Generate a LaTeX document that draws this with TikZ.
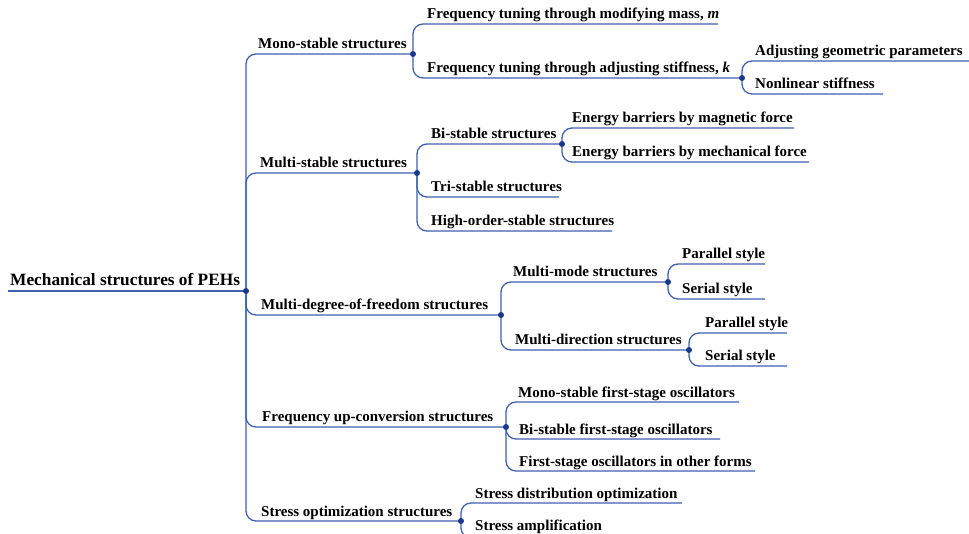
\documentclass[tikz,border=0pt]{standalone}
\usepackage{fontspec}
\setmainfont{Liberation Serif}
\usetikzlibrary{calc}
\definecolor{linec}{RGB}{62,96,176}
\definecolor{dotc}{RGB}{26,56,140}
\begin{document}
\begin{tikzpicture}[x=1pt,y=-1pt,
  lbl/.style={anchor=base west, inner sep=0pt, font=\fontsize{15}{18}\selectfont\bfseries, text=black},
  rootlbl/.style={lbl, font=\fontsize{17.3}{20}\selectfont\bfseries},
  edge/.style={draw=linec, line width=1.3pt, rounded corners=10pt},
  jdot/.style={circle, fill=dotc, inner sep=0pt, minimum size=6pt}]
\clip (0,0) rectangle (969,534);
% junctions and line ends
\coordinate (rootL) at (8,291);
\coordinate (cR) at (246,291);
\coordinate (cM) at (413,54);
\coordinate (cS) at (417,173);
\coordinate (cD) at (501,315);
\coordinate (cF) at (506,427);
\coordinate (cT) at (461,521);
\coordinate (eMass) at (718,24);
\coordinate (cK) at (742,78);
\coordinate (eGeo) at (969,61);
\coordinate (eNon) at (883,94);
\coordinate (cB) at (562,144);
\coordinate (eTri) at (559,197);
\coordinate (eHigh) at (612,231);
\coordinate (eMag) at (794,128);
\coordinate (eMech) at (809,162);
\coordinate (cMM) at (668,282);
\coordinate (cMD) at (689,350);
\coordinate (ePar1) at (765,264);
\coordinate (eSer1) at (765,299);
\coordinate (ePar2) at (787,333);
\coordinate (eSer2) at (787,366);
\coordinate (eMonoF) at (739,402);
\coordinate (eBiF) at (720,439);
\coordinate (eOther) at (755,471);
\coordinate (eDist) at (682,503);
\coordinate (eAmp) at (605,538);
% connectors
\draw[edge] (rootL) -- (cR);
\foreach \c in {cM,cS,cD,cF,cT} \draw[edge] (cR) |- (\c);
\foreach \c in {eMass,cK} \draw[edge] (cM) |- (\c);
\foreach \c in {eGeo,eNon} \draw[edge] (cK) |- (\c);
\foreach \c in {cB,eTri,eHigh} \draw[edge] (cS) |- (\c);
\foreach \c in {eMag,eMech} \draw[edge] (cB) |- (\c);
\foreach \c in {cMM,cMD} \draw[edge] (cD) |- (\c);
\foreach \c in {ePar1,eSer1} \draw[edge] (cMM) |- (\c);
\foreach \c in {ePar2,eSer2} \draw[edge] (cMD) |- (\c);
\foreach \c in {eMonoF,eBiF,eOther} \draw[edge] (cF) |- (\c);
\foreach \c in {eDist,eAmp} \draw[edge] (cT) |- (\c);
% junction dots
\foreach \c in {cR,cM,cS,cD,cF,cT,cK,cB,cMM,cMD} \node[jdot] (dot\c) at (\c) {};
% labels
\node[rootlbl] (root) at (10,286) {Mechanical structures of PEHs};
\node[lbl] (mono) at (258,49) {Mono-stable structures};
\node[lbl] (multi) at (260,168) {Multi-stable structures};
\node[lbl] (mdof) at (261,310) {Multi-degree-of-freedom structures};
\node[lbl] (frequp) at (262,421) {Frequency up-conversion structures};
\node[lbl] (stress) at (261,516) {Stress optimization structures};
\node[lbl] (mass) at (427,19) {Frequency tuning through modifying mass, \textit{m}};
\node[lbl] (stiff) at (427,73) {Frequency tuning through adjusting stiffness, \textit{k}};
\node[lbl] (geo) at (755,56) {Adjusting geometric parameters};
\node[lbl] (non) at (755,89) {Nonlinear stiffness};
\node[lbl] (bi) at (431,139) {Bi-stable structures};
\node[lbl] (tri) at (431,192) {Tri-stable structures};
\node[lbl] (high) at (431,226) {High-order-stable structures};
\node[lbl] (mag) at (572,123) {Energy barriers by magnetic force};
\node[lbl] (mech) at (572,157) {Energy barriers by mechanical force};
\node[lbl] (mmode) at (513,277) {Multi-mode structures};
\node[lbl] (mdir) at (515,345) {Multi-direction structures};
\node[lbl] (par1) at (682,259) {Parallel style};
\node[lbl] (ser1) at (682,294) {Serial style};
\node[lbl] (par2) at (705,328) {Parallel style};
\node[lbl] (ser2) at (705,361) {Serial style};
\node[lbl] (monoF) at (518,397) {Mono-stable first-stage oscillators};
\node[lbl] (biF) at (519,434) {Bi-stable first-stage oscillators};
\node[lbl] (other) at (519,466) {First-stage oscillators in other forms};
\node[lbl] (dist) at (475,498) {Stress distribution optimization};
\node[lbl] (amp) at (475,530) {Stress amplification};
\end{tikzpicture}
\end{document}
